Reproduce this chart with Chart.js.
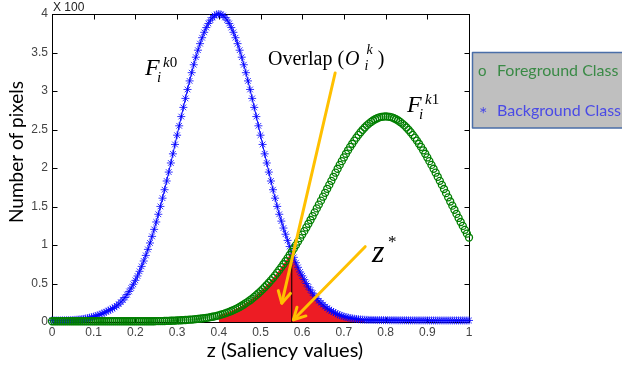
<!DOCTYPE html>
<html lang="en">
<head>
<meta charset="UTF-8" />
<title>Saliency value histograms</title>
<script src="https://cdn.jsdelivr.net/npm/chart.js@4.4.1/dist/chart.umd.min.js"></script>
<style>
  body { margin: 0; background: #ffffff; }
  .wrap { position: relative; width: 622px; height: 369px; }
</style>
</head>
<body>
<div class="wrap"><canvas id="chart" width="622" height="369"></canvas></div>
<script>
// z (saliency) sample positions
const zValues = [
  0,0.005,0.01,0.015,0.02,0.025,0.03,0.035,0.04,0.045,0.05,0.055,0.06,0.065,0.07,0.075,0.08,0.085,0.09,0.095,
  0.1,0.105,0.11,0.115,0.12,0.125,0.13,0.135,0.14,0.145,0.15,0.155,0.16,0.165,0.17,0.175,0.18,0.185,0.19,0.195,
  0.2,0.205,0.21,0.215,0.22,0.225,0.23,0.235,0.24,0.245,0.25,0.255,0.26,0.265,0.27,0.275,0.28,0.285,0.29,0.295,
  0.3,0.305,0.31,0.315,0.32,0.325,0.33,0.335,0.34,0.345,0.35,0.355,0.36,0.365,0.37,0.375,0.38,0.385,0.39,0.395,
  0.4,0.405,0.41,0.415,0.42,0.425,0.43,0.435,0.44,0.445,0.45,0.455,0.46,0.465,0.47,0.475,0.48,0.485,0.49,0.495,
  0.5,0.505,0.51,0.515,0.52,0.525,0.53,0.535,0.54,0.545,0.55,0.555,0.56,0.565,0.57,0.575,0.58,0.585,0.59,0.595,
  0.6,0.605,0.61,0.615,0.62,0.625,0.63,0.635,0.64,0.645,0.65,0.655,0.66,0.665,0.67,0.675,0.68,0.685,0.69,0.695,
  0.7,0.705,0.71,0.715,0.72,0.725,0.73,0.735,0.74,0.745,0.75,0.755,0.76,0.765,0.77,0.775,0.78,0.785,0.79,0.795,
  0.8,0.805,0.81,0.815,0.82,0.825,0.83,0.835,0.84,0.845,0.85,0.855,0.86,0.865,0.87,0.875,0.88,0.885,0.89,0.895,
  0.9,0.905,0.91,0.915,0.92,0.925,0.93,0.935,0.94,0.945,0.95,0.955,0.96,0.965,0.97,0.975,0.98,0.985,0.99,0.995,
  1
];

// background class F_i^k0 (x 100 pixels)
const backgroundPixels = [
  0.02,0.02,0.02,0.02,0.02,0.021,0.021,0.022,0.023,0.024,0.026,0.028,0.03,0.033,0.036,0.04,0.045,0.05,0.056,0.063,
  0.07,0.078,0.087,0.097,0.108,0.12,0.133,0.148,0.16,0.175,0.19,0.21,0.232,0.258,0.286,0.318,0.356,0.397,0.441,0.49,
  0.541,0.598,0.658,0.722,0.792,0.865,0.943,1.026,1.112,1.203,1.299,1.399,1.501,1.608,1.718,1.831,1.947,2.065,2.184,2.306,
  2.426,2.548,2.668,2.787,2.904,3.02,3.131,3.238,3.341,3.439,3.53,3.615,3.692,3.762,3.824,3.877,3.921,3.955,3.98,3.995,
  4.0,3.995,3.98,3.955,3.921,3.877,3.824,3.762,3.692,3.615,3.53,3.439,3.341,3.238,3.131,3.02,2.904,2.787,2.668,2.548,
  2.426,2.306,2.184,2.065,1.947,1.831,1.718,1.608,1.501,1.399,1.31,1.22,1.14,1.06,0.98,0.91,0.84,0.77,0.71,0.65,
  0.6,0.55,0.5,0.455,0.415,0.375,0.34,0.305,0.275,0.25,0.225,0.2,0.18,0.16,0.145,0.13,0.115,0.1,0.09,0.08,
  0.072,0.065,0.058,0.052,0.047,0.043,0.039,0.036,0.033,0.031,0.029,0.028,0.027,0.027,0.026,0.026,0.025,0.025,0.025,0.024,
  0.024,0.024,0.023,0.023,0.023,0.023,0.022,0.022,0.022,0.022,0.022,0.021,0.021,0.021,0.021,0.021,0.021,0.021,0.021,0.021,
  0.021,0.02,0.02,0.02,0.02,0.02,0.02,0.02,0.02,0.02,0.02,0.02,0.02,0.02,0.02,0.02,0.02,0.02,0.02,0.02,
  0.02
];

// foreground class F_i^k1 (x 100 pixels)
const foregroundPixels = [
  0.01,0.01,0.01,0.01,0.01,0.01,0.01,0.01,0.01,0.01,0.01,0.01,0.01,0.01,0.01,0.01,0.01,0.01,0.01,0.01,
  0.01,0.01,0.01,0.01,0.01,0.01,0.01,0.01,0.01,0.01,0.01,0.01,0.01,0.01,0.01,0.01,0.01,0.01,0.01,0.01,
  0.01,0.01,0.01,0.01,0.01,0.01,0.01,0.01,0.01,0.01,0.011,0.011,0.012,0.012,0.013,0.014,0.015,0.016,0.017,0.018,
  0.02,0.022,0.023,0.024,0.026,0.028,0.03,0.032,0.034,0.037,0.04,0.043,0.046,0.05,0.054,0.058,0.063,0.068,0.074,0.08,
  0.087,0.095,0.103,0.112,0.122,0.132,0.143,0.155,0.168,0.181,0.195,0.211,0.228,0.246,0.264,0.283,0.304,0.326,0.349,0.373,
  0.398,0.424,0.452,0.48,0.51,0.54,0.572,0.605,0.64,0.676,0.713,0.75,0.789,0.829,0.87,0.912,0.955,0.999,1.044,1.089,
  1.135,1.18,1.228,1.276,1.325,1.374,1.424,1.475,1.525,1.576,1.627,1.678,1.73,1.78,1.833,1.886,1.939,1.99,2.04,2.089,
  2.137,2.185,2.23,2.274,2.315,2.356,2.394,2.431,2.465,2.496,2.526,2.553,2.577,2.598,2.617,2.633,2.646,2.657,2.664,2.668,
  2.67,2.668,2.664,2.657,2.646,2.633,2.617,2.598,2.577,2.553,2.526,2.496,2.465,2.431,2.394,2.356,2.315,2.274,2.23,2.185,
  2.137,2.089,2.04,1.99,1.939,1.886,1.833,1.78,1.727,1.673,1.619,1.565,1.511,1.458,1.404,1.351,1.299,1.248,1.197,1.147,
  1.097
];

const xTicks = [0, 0.1, 0.2, 0.3, 0.4, 0.5, 0.6, 0.7, 0.8, 0.9, 1];
const xTickLabels = ["0", "0.1", "0.2", "0.3", "0.4", "0.5", "0.6", "0.7", "0.8", "0.9", "1"];
const yTicks = [0, 0.5, 1, 1.5, 2, 2.5, 3, 3.5, 4];
const yTickLabels = ["0", "0.5", "1", "1.5", "2", "2.5", "3", "3.5", "4"];

// threshold z* and the overlap range that gets shaded
const zStar = 0.575;
const zStarTop = 0.85;
const overlapFrom = 0.4;
const overlapTo = 0.75;

const toPoints = (ys) => zValues.map((z, i) => ({x: z, y: ys[i]}));
const overlapPoints = zValues
  .map((z, i) => ({x: z, y: Math.min(foregroundPixels[i], backgroundPixels[i])}))
  .filter((p) => p.x >= overlapFrom - 1e-9 && p.x <= overlapTo + 1e-9);

const serif = "'Liberation Serif', 'DejaVu Serif', serif";
const sans = "Lato, 'Open Sans', sans-serif";
const gold = "#ffc000";

function arrow(ctx, x1, y1, x2, y2) {
  ctx.beginPath();
  ctx.moveTo(x1, y1);
  ctx.lineTo(x2, y2);
  ctx.stroke();
  const a = Math.atan2(y2 - y1, x2 - x1);
  const len = 13, w = 0.5;
  ctx.beginPath();
  ctx.moveTo(x2 - len * Math.cos(a - w), y2 - len * Math.sin(a - w));
  ctx.lineTo(x2, y2);
  ctx.lineTo(x2 - len * Math.cos(a + w), y2 - len * Math.sin(a + w));
  ctx.stroke();
}

function txt(ctx, s, x, y, font, color) {
  ctx.font = font;
  ctx.fillStyle = color || "#000";
  ctx.fillText(s, x, y);
  return x + ctx.measureText(s).width;
}

// F with sub i and a superscript
function fLabel(ctx, x, y, sup) {
  txt(ctx, "F", x, y, "italic 24px " + serif);
  txt(ctx, "i", x + 12, y + 7, "italic 15px " + serif);
  const k = txt(ctx, "k", x + 18, y - 8, "italic 15px " + serif);
  txt(ctx, sup, k, y - 8, "15px " + serif);
}

const decor = {
  id: "decor",
  beforeDatasetsDraw(chart) {
    const {ctx, chartArea: a, scales} = chart;
    const l = Math.round(a.left) + 0.5, r = Math.round(a.right) + 0.5;
    const t = Math.round(a.top) + 0.5, b = Math.round(a.bottom) + 0.5;
    ctx.save();
    ctx.strokeStyle = "#000";
    ctx.lineWidth = 1;
    ctx.strokeRect(l, t, r - l, b - t);
    ctx.beginPath();
    xTicks.forEach((v) => {
      const x = Math.round(scales.x.getPixelForValue(v)) + 0.5;
      ctx.moveTo(x, b); ctx.lineTo(x, b - 5);
      ctx.moveTo(x, t); ctx.lineTo(x, t + 5);
    });
    yTicks.forEach((v) => {
      const y = Math.round(scales.y.getPixelForValue(v)) + 0.5;
      ctx.moveTo(l, y); ctx.lineTo(l + 5, y);
      ctx.moveTo(r, y); ctx.lineTo(r - 5, y);
    });
    ctx.stroke();
    ctx.restore();
  },
  afterDatasetsDraw(chart) {
    const {ctx, chartArea: a, scales} = chart;
    const px = (v) => scales.x.getPixelForValue(v);
    const py = (v) => scales.y.getPixelForValue(v);
    ctx.save();

    // arrows
    ctx.strokeStyle = gold;
    ctx.lineWidth = 3;
    ctx.lineCap = "round";
    ctx.lineJoin = "round";
    arrow(ctx, px(0.679), py(3.234), px(0.551), py(0.245));
    arrow(ctx, px(0.751), py(0.978), px(0.579), py(0.03));

    // labels
    ctx.textAlign = "left";
    ctx.textBaseline = "alphabetic";
    fLabel(ctx, px(0.223), py(3.208), "0");
    fLabel(ctx, px(0.8513), py(2.727), "1");

    let ox = px(0.518), oy = py(3.338);
    let x = txt(ctx, "Overlap (", ox, oy, "20px " + serif);
    x = txt(ctx, "O", x + 1, oy, "italic 20px " + serif);
    txt(ctx, "i", x + 5, oy + 5, "italic 14px " + serif);
    x = txt(ctx, "k", x + 7, oy - 11, "italic 14px " + serif);
    txt(ctx, ")", x + 5, oy, "20px " + serif);

    const zx = px(0.7674), zy = py(0.779);
    txt(ctx, "z", zx, zy, "italic 32px " + serif);
    txt(ctx, "*", zx + 16, zy - 15, "17px " + serif);

    // multiplier
    txt(ctx, "X 100", a.left + 1, a.top - 3, "12px 'Liberation Sans', Arial, sans-serif", "#222");

    // axis titles
    ctx.textAlign = "center";
    txt(ctx, "z (Saliency values)", 285, 357, "20px " + sans);
    ctx.save();
    ctx.translate(23, 152);
    ctx.rotate(-Math.PI / 2);
    txt(ctx, "Number of pixels", 0, 0, "19px " + sans);
    ctx.restore();

    // legend box
    ctx.textAlign = "left";
    ctx.fillStyle = "#bfbfbf";
    ctx.fillRect(472.5, 52.5, 200, 75.5);
    ctx.strokeStyle = "#4a6ea8";
    ctx.lineWidth = 1.5;
    ctx.lineCap = "butt";
    ctx.strokeRect(472.5, 52.5, 200, 75.5);
    txt(ctx, "o", 478, 76, "15px " + sans, "#3a8a46");
    txt(ctx, "Foreground Class", 497, 76, "16px " + sans, "#3a8a46");
    txt(ctx, "*", 479, 121, "20px " + sans, "#4a4ae6");
    txt(ctx, "Background Class", 497, 116, "16px " + sans, "#4a4ae6");

    ctx.restore();
  }
};

new Chart(document.getElementById("chart"), {
  type: "line",
  data: {
    datasets: [
      {
        label: "Foreground Class",
        data: toPoints(foregroundPixels),
        showLine: false,
        pointStyle: "circle",
        pointRadius: 3.5,
        pointBorderWidth: 1.3,
        pointBorderColor: "#007f00",
        pointBackgroundColor: "rgba(255,255,255,0)",
        clip: false,
        order: 0
      },
      {
        label: "Background Class",
        data: toPoints(backgroundPixels),
        borderColor: "#0000ff",
        borderWidth: 1,
        pointStyle: "star",
        pointRadius: 4,
        pointBorderWidth: 1,
        pointBorderColor: "rgba(0,0,255,0.8)",
        clip: false,
        order: 1
      },
      {
        label: "z*",
        data: [{x: zStar, y: 0}, {x: zStar, y: zStarTop}],
        borderColor: "#000",
        borderWidth: 1,
        pointRadius: 0,
        order: 2
      },
      {
        label: "Overlap",
        data: overlapPoints,
        borderWidth: 0,
        borderColor: "rgba(0,0,0,0)",
        backgroundColor: "#ed1c24",
        fill: "origin",
        pointRadius: 0,
        order: 3
      }
    ]
  },
  options: {
    responsive: false,
    animation: false,
    events: [],
    layout: {padding: {top: 14, right: 153, left: 0, bottom: 0}},
    plugins: {legend: {display: false}, tooltip: {enabled: false}},
    scales: {
      x: {
        type: "linear",
        min: 0,
        max: 1,
        grid: {display: false, drawTicks: false},
        border: {display: false},
        afterBuildTicks: (s) => { s.ticks = xTicks.map((v) => ({value: v})); },
        afterFit: (s) => { s.height = 47; },
        ticks: {
          color: "#444",
          font: {family: "'Liberation Sans', Arial, sans-serif", size: 12},
          padding: 3,
          maxRotation: 0,
          autoSkip: false,
          callback: (v) => {
            const i = xTicks.findIndex((t) => Math.abs(t - v) < 1e-9);
            return i >= 0 ? xTickLabels[i] : "";
          }
        }
      },
      y: {
        type: "linear",
        min: 0,
        max: 4,
        grid: {display: false, drawTicks: false},
        border: {display: false},
        afterBuildTicks: (s) => { s.ticks = yTicks.map((v) => ({value: v})); },
        afterFit: (s) => { s.width = 52; },
        ticks: {
          color: "#444",
          font: {family: "'Liberation Sans', Arial, sans-serif", size: 12},
          padding: 4,
          autoSkip: false,
          callback: (v) => {
            const i = yTicks.findIndex((t) => Math.abs(t - v) < 1e-9);
            return i >= 0 ? yTickLabels[i] : "";
          }
        }
      }
    }
  },
  plugins: [decor]
});
</script>
</body>
</html>
